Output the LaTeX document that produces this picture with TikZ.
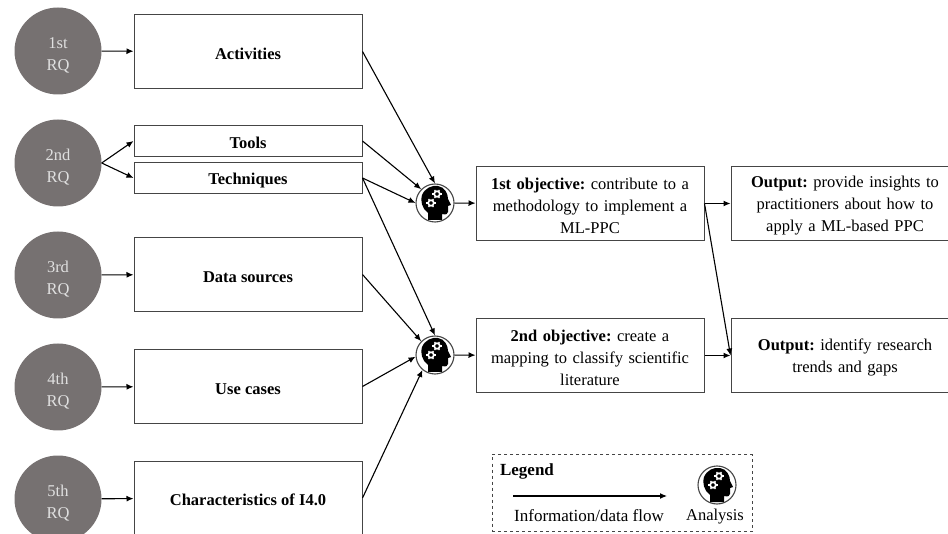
\documentclass[tikz,border=0pt]{standalone}
\usepackage{fontspec}
\setmainfont{Liberation Serif}
\usetikzlibrary{arrows.meta}
\definecolor{rqgray}{HTML}{767171}
\definecolor{linegray}{HTML}{454545}
\tikzset{
  lowtext/.style={execute at begin node={\rule{0pt}{16pt}}},
  rqnode/.style={circle,fill=rqgray,text=white!88!black,minimum size=87pt,inner sep=0pt,align=center,font=\fontsize{16.5}{22}\selectfont},
  boxnode/.style={draw=linegray,line width=1pt,fill=white,minimum width=228pt,inner sep=2pt,align=center,lowtext,font=\fontsize{16.5}{22}\selectfont\bfseries},
  textbox/.style={draw=linegray,line width=1pt,fill=white,minimum height=74pt,inner sep=2pt,align=center,lowtext,font=\fontsize{16.5}{22}\selectfont},
  headnode/.style={circle,draw=linegray,line width=1.1pt,fill=white,minimum size=38pt,inner sep=0pt},
  flow/.style={-{Latex[length=7pt,width=6pt]},line width=1.1pt,black},
  headicon/.pic={
    \fill[black] (-7,17) -- (-7,10) .. controls (-13,6) and (-15,-3) .. (-13,-8) .. controls (-10,-15) and (-3,-18) .. (3,-17) .. controls (10,-16) and (13,-9) .. (13,-4) -- (16,2) -- (13,3) -- (13,9) .. controls (13,11) and (11,12) .. (7,11) -- (7,17) -- cycle;
    \foreach \gx/\gy in {2/-9,-4/0}
    {
       \draw[white,line width=1.7pt] (\gx,\gy) circle (2.8);
       \foreach \ang in {0,60,...,300}
       {
          \draw[white,line width=1.2pt] (\gx,\gy)++(\ang:3.2) -- ++(\ang:1.5);
       }
    }
  }
}
\begin{document}
\frenchspacing
\begin{tikzpicture}[x=1pt,y=-1pt]
\clip (0,0) rectangle (948,534);

\foreach \y/\rqname/\rqtext in {51/rqa/1st,163/rqb/2nd,275/rqc/3rd,387/rqd/4th,499/rqe/5th}
{
   \node[rqnode] (\rqname) at (58,\y) {\rule{0pt}{20pt}\rqtext\\RQ};
}

\node[boxnode,minimum height=74pt] (activities) at (248,51.5) {Activities};
\node[boxnode,minimum height=31pt] (tools) at (248,141) {Tools};
\node[boxnode,minimum height=31pt] (techniques) at (248,178) {Techniques};
\node[boxnode,minimum height=74pt] (datasources) at (248,274.5) {Data sources};
\node[boxnode,minimum height=74pt] (usecases) at (248,386.5) {Use cases};
\node[boxnode,minimum height=74pt] (characteristics) at (248,498) {Characteristics of I4.0};

\node[headnode] (heada) at (435,203) {};
\node[headnode] (headb) at (435,355) {};
\pic at (heada) {headicon};
\pic at (headb) {headicon};

\node[textbox,text width=224pt] (objectivea) at (590,203.5) {\textbf{1st objective:} contribute to a\\methodology to implement a\\ML-PPC};
\node[textbox,text width=224pt] (objectiveb) at (590,355.5) {\textbf{2nd objective:} create a\\mapping to classify scientific\\literature};
\node[textbox,text width=224pt] (outputa) at (845,203.5) {\textbf{Output:} provide insights to\\practitioners about how to\\apply a ML-based PPC};
\node[textbox,text width=224pt] (outputb) at (845,355.5) {\textbf{Output:} identify research\\trends and gaps};

\draw[flow] (rqa) -- (activities);
\draw[flow] (rqb.east) -- (tools.west);
\draw[flow] (rqb.east) -- (techniques.west);
\draw[flow] (rqc) -- (datasources);
\draw[flow] (rqd) -- (usecases);
\draw[flow] (rqe) -- (characteristics);

\draw[flow] (activities.east) -- (heada.90);
\draw[flow] (tools.east) -- (heada.135);
\draw[flow] (techniques.east) -- (heada.180);
\draw[flow] (techniques.east) -- (headb.90);
\draw[flow] (datasources.east) -- (headb.135);
\draw[flow] (usecases.east) -- (headb.185);
\draw[flow] (characteristics.east) -- (headb.230);

\draw[flow] (heada) -- (objectivea);
\draw[flow] (headb) -- (objectiveb);
\draw[flow] (objectivea) -- (outputa);
\draw[flow] (objectivea.east) -- (outputb.west);
\draw[flow] (objectiveb) -- (outputb);

\node[draw=linegray,dashed,line width=1pt,minimum width=260pt,minimum height=77pt] (legendbox) at (622,493) {};
\node[font=\fontsize{17}{20}\selectfont\bfseries] (legendtitle) at (527,471) {Legend};
\coordinate (flowstart) at (513,496);
\coordinate (flowend) at (667,496);
\draw[flow] (flowstart) -- (flowend);
\node[font=\fontsize{17}{20}\selectfont] (flowlabel) at (589,516) {Information/data flow};
\node[headnode] (headlegend) at (717,485) {};
\pic at (headlegend) {headicon};
\node[font=\fontsize{16.5}{20}\selectfont] (analysislabel) at (715,517) {Analysis};
\end{tikzpicture}
\end{document}
